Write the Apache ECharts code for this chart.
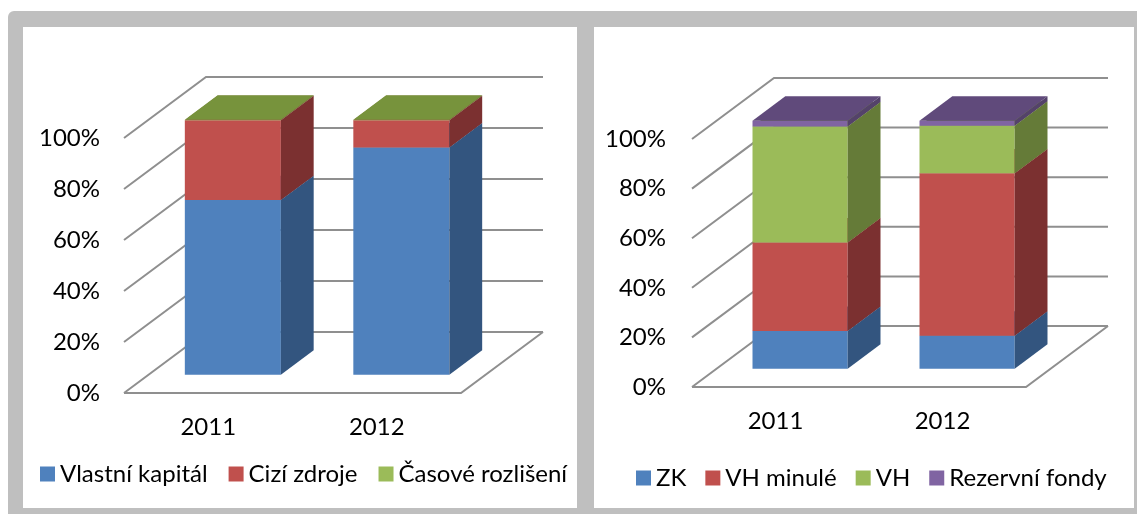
<!DOCTYPE html>
<html>
<head>
<meta charset="utf-8">
<script src="https://cdn.jsdelivr.net/npm/echarts@6/dist/echarts.min.js"></script>
<style>
  html, body { margin: 0; padding: 0; background: #fff; }
  #chart { width: 1137px; height: 514px; }
</style>
</head>
<body>
<div id="chart"></div>
<script>
// categories and tick values
const years = ['2011', '2012']
const yTicks = [0, 20, 40, 60, 80, 100]

// left chart (% of total)
const vlastniKapital = [68.5, 89.1]
const ciziZdroje = [31.3, 10.7]
const casoveRozliseni = [0.2, 0.2]

// right chart (% of total)
const zk = [15.2, 13.3]
const vhMinule = [35.7, 65.5]
const vh = [46.8, 19.2]
const rezervniFondy = [2.3, 2.0]

// 3D look: floor depth in px, bar sits in the middle of the floor depth
const DX = 82
const DY = 61
const FRONT = 0.3
const BAR_DEPTH = 0.4
const BAR_W = 0.57
const GRID_COLOR = '#8f8f8f'
const FONT = 'Lato'

// front / side / top colours
const shades = {
  blue:   ['#4f81bd', '#33557f', '#3f6797'],
  red:    ['#c0504d', '#7b3030', '#9a3f3d'],
  green:  ['#9bbb59', '#657b38', '#77933c'],
  purple: ['#8064a2', '#54426a', '#604a7b']
}

const chart = echarts.init(document.getElementById('chart'))

function stackData(list) {
  // turns value arrays into [cat, base, top] per series
  const base = years.map(() => 0)
  return list.map(values => values.map((v, i) => {
    const item = [i, base[i], base[i] + v]
    base[i] += v
    return item
  }))
}

function renderWalls(params, api) {
  const v = api.value(0)
  const cs = params.coordSys
  const y = api.coord([0, v])[1]
  const xl = cs.x
  const xr = cs.x + cs.width
  const children = [{
    type: 'polyline',
    shape: { points: [[xl, y], [xl + DX, y - DY], [xr + DX, y - DY]] },
    style: { stroke: GRID_COLOR, lineWidth: 2, fill: null }
  }]
  if (v === 0) {
    children.push({
      type: 'polyline',
      shape: { points: [[xl, y], [xr, y], [xr + DX, y - DY]] },
      style: { stroke: GRID_COLOR, lineWidth: 2, fill: null }
    })
  }
  return { type: 'group', children }
}

function makeBarRenderer(shade) {
  return function (params, api) {
    const cat = api.value(0)
    const pb = api.coord([cat, api.value(1)])
    const pt = api.coord([cat, api.value(2)])
    const band = api.size([1, 0])[0]
    const w = band * BAR_W
    const bx = DX * BAR_DEPTH
    const by = DY * BAR_DEPTH
    const x0 = pb[0] - w / 2 + DX * FRONT
    const x1 = x0 + w
    const yb = pb[1] - DY * FRONT
    const yt = pt[1] - DY * FRONT
    return {
      type: 'group',
      children: [
        { type: 'polygon', shape: { points: [[x0, yb], [x1, yb], [x1, yt], [x0, yt]] }, style: { fill: shade[0] } },
        { type: 'polygon', shape: { points: [[x1, yb], [x1 + bx, yb - by], [x1 + bx, yt - by], [x1, yt]] }, style: { fill: shade[1] } },
        { type: 'polygon', shape: { points: [[x0, yt], [x1, yt], [x1 + bx, yt - by], [x0 + bx, yt - by]] }, style: { fill: shade[2] } }
      ]
    }
  }
}

const leftNames = ['Vlastní kapitál', 'Cizí zdroje', 'Časové rozlišení']
const leftShades = [shades.blue, shades.red, shades.green]
const leftStack = stackData([vlastniKapital, ciziZdroje, casoveRozliseni])

const rightNames = ['ZK', 'VH minulé', 'VH', 'Rezervní fondy']
const rightShades = [shades.blue, shades.red, shades.green, shades.purple]
const rightStack = stackData([zk, vhMinule, vh, rezervniFondy])

function barSeries(names, shadeList, stacked, idx) {
  return names.map((name, k) => ({
    name,
    type: 'custom',
    xAxisIndex: idx,
    yAxisIndex: idx,
    silent: true,
    z: 3,
    itemStyle: { color: shadeList[k][0] },
    encode: { x: 0, y: [1, 2] },
    renderItem: makeBarRenderer(shadeList[k]),
    data: stacked[k]
  }))
}

const axisText = { color: '#000', fontFamily: FONT, fontSize: 24 }

const option = {
  animation: false,
  textStyle: { fontFamily: FONT },
  graphic: [
    { type: 'rect', z: -10, shape: { x: 8, y: 11, width: 1129, height: 503, r: [6, 0, 0, 0] }, style: { fill: '#bfbfbf' } },
    { type: 'rect', z: -9, shape: { x: 23, y: 27, width: 554, height: 481 }, style: { fill: '#fff' } },
    { type: 'rect', z: -9, shape: { x: 594, y: 27, width: 540, height: 481 }, style: { fill: '#fff' } }
  ],
  grid: [
    { left: 124, right: 676, top: 138, bottom: 121 },
    { left: 692, right: 111, top: 139, bottom: 127 }
  ],
  xAxis: [0, 1].map(i => ({
    type: 'category',
    gridIndex: i,
    data: years,
    boundaryGap: true,
    axisLine: { show: false },
    axisTick: { show: false },
    axisLabel: Object.assign({ margin: 22 }, axisText)
  })),
  yAxis: [0, 1].map(i => ({
    type: 'value',
    gridIndex: i,
    min: 0,
    max: 100,
    interval: 20,
    axisLine: { show: false },
    axisTick: { show: false },
    splitLine: { show: false },
    axisLabel: Object.assign({ margin: i === 0 ? 24 : 26, formatter: '{value}%' }, axisText)
  })),
  legend: [
    {
      data: leftNames, left: 35, top: 457, icon: 'rect', itemWidth: 15, itemHeight: 15,
      itemGap: 21, selectedMode: false, textStyle: axisText
    },
    {
      data: rightNames, left: 631, top: 461, icon: 'rect', itemWidth: 15, itemHeight: 15,
      itemGap: 19, selectedMode: false, textStyle: axisText
    }
  ],
  series: [
    { type: 'custom', name: 'walls-left', xAxisIndex: 0, yAxisIndex: 0, silent: true, z: 1,
      encode: { y: 0 }, renderItem: renderWalls, data: yTicks.map(v => [v]) },
    { type: 'custom', name: 'walls-right', xAxisIndex: 1, yAxisIndex: 1, silent: true, z: 1,
      encode: { y: 0 }, renderItem: renderWalls, data: yTicks.map(v => [v]) },
    ...barSeries(leftNames, leftShades, leftStack, 0),
    ...barSeries(rightNames, rightShades, rightStack, 1)
  ]
}

chart.setOption(option)
window.addEventListener('resize', () => chart.resize())
</script>
</body>
</html>
